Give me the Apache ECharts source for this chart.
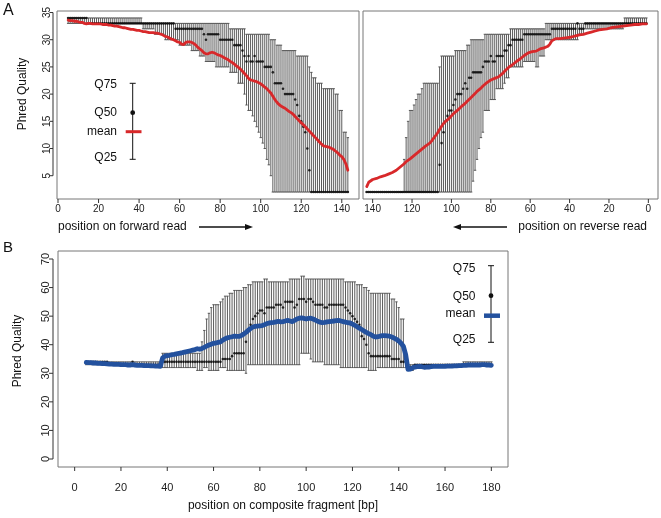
<!DOCTYPE html>
<html><head><meta charset="utf-8">
<script src="https://cdn.jsdelivr.net/npm/echarts@6/dist/echarts.min.js"></script>
<style>html,body{margin:0;padding:0;background:#fff}#c{width:661px;height:518px}</style>
</head><body><div id="c"></div>
<script>
// ---------- DATA ----------
const fwdStart = 5;   // forward read: positions 5..143
const revStart = 1;   // reverse read: positions 1..143
const fragStart = 5;  // composite fragment: positions 5..180

const fwdQ75 = [34,34,34,34,34,34,34,34,34,34, 34,34,34,34,34,34,34,34,34,34, 34,34,34,34,34,34,34,34,34,34,
 34,34,34,34,34,34,34,33,33,33, 33,33,33,33,33,33,33,33,33,33, 33,33,33,33,33,33,33,33,33,33,
 33,33,33,33,33,33,33,33,33,33, 33,33,33,33,33,33,33,33,33,33, 32,32,32,32,32,32,32,32,31,31,
 31,31,31,31,31,31,31,31,31,31, 30,30,30,29,29,29,28,28,28,28, 28,28,28,27,27,27,27,27,27,25,
 24,23,23,22,22,22,21,21,21,21, 21,21,20,20,17,17,13,13,12];
const fwdQ25 = [33,33,33,33,33,33,33,33,33,33, 33,33,33,33,33,33,33,33,33,33, 33,33,33,33,33,33,33,33,33,33,
 33,33,33,33,33,33,33,32,32,32, 32,32,32,31,31,31,31,31,30,30, 30,30,30,30,30,29,29,29,29,29,
 29,28,28,28,28,27,27,27,26,26, 26,26,26,25,25,25,25,25,25,25, 24,24,24,24,22,22,22,20,18,17,
 17,16,15,14,13,12,11,10,8,7, 5,2,2,2,2,2,2,2,2,2, 2,2,2,2,2,2,2,2,2,2,
 2,2,2,2,2,2,2,2,2,2, 2,2,2,2,2,2,2,2,2];
const fwdMedian = [34,34,34,34,34,34,34,34,34,34, 33,33,33,33,33,33,33,33,33,33, 33,33,33,33,33,33,33,33,33,33,
 33,33,33,33,33,33,33,33,33,33, 33,33,33,33,33,33,33,33,33,33, 33,33,33,32,32,32,32,32,32,32,
 32,32,32,32,32,32,32,31,30,31, 31,31,31,31,31,30,30,30,30,30, 30,30,29,29,29,29,28,27,26,27,
 26,26,27,26,26,26,26,25,25,25, 25,24,22,22,22,22,21,20,20,20, 20,20,19,18,16,15,14,13,10,6,
 2,2,2,2,2,2,2,2,2,2, 2,2,2,2,2,2,2,2,2];
const fwdMean = [33.6,33.5,33.5,33.4,33.4,33.3,33.2,33.2,33.0,32.9, 33.0,33.0,32.9,32.9,32.9,32.9,32.9,32.8,32.8,32.8,
 32.7,32.7,32.6,32.5,32.5,32.4,32.3,32.2,32.2,32.1, 32.0,31.9,31.9,31.8,31.7,31.7,31.6,31.5,31.5,31.4,
 31.3,31.3,31.3,31.2,31.2,31.1,31.0,30.8,30.6,30.5, 30.3,30.1,30.0,29.8,29.6,29.5,29.2,29.1,29.5,29.6,
 29.6,29.5,29.3,29.0,28.6,28.3,28.0,27.6,27.4,27.4, 27.6,27.7,27.6,27.4,27.2,27.1,26.9,26.7,26.5,26.3,
 26.0,25.8,25.5,25.2,24.9,24.6,24.2,23.8,23.4,22.9, 22.6,22.5,22.4,22.3,22.1,21.9,21.6,21.3,21.0,20.6,
 20.2,19.6,19.0,18.5,18.1,17.8,17.6,17.4,17.1,16.8, 16.6,16.3,15.9,15.5,15.1,14.7,14.4,14.0,13.6,13.2,
 12.8,12.4,12.0,11.6,11.2,10.8,10.5,10.4,10.3,10.2, 10.0,9.8,9.5,9.2,8.8,8.5,8.0,7.2,6.0];

const revQ75 = [34,34,34,34,34,34,34,34,34,34, 34,34,33,33,33,33,33,33,33,33, 33,33,33,33,33,33,33,33,33,33,
 33,33,33,33,33,33,33,33,33,33, 33,33,33,33,33,33,33,33,33,33, 33,33,32,32,32,32,32,32,32,32,
 32,32,32,32,32,32,32,32,32,32, 31,31,31,31,31,31,31,31,31,31, 31,31,31,30,30,30,30,30,30,30,
 29,29,28,28,28,28,28,28,27,27, 27,27,27,27,27,25,22,22,22,22, 22,22,22,22,21,20,20,19,18,17,
 17,15,12,8,2,2,2,2,2,2, 2,2,2,2,2,2,2,2,2,2, 2,2,2];
const revQ25 = [33,33,33,33,33,33,33,33,33,33, 33,33,32,32,32,32,32,32,32,32, 32,32,32,32,32,32,32,32,32,32,
 32,32,31,31,31,30,30,30,30,30, 30,30,30,30,30,30,30,30,30,30, 30,30,27,27,27,25,25,26,26,26,
 26,26,26,25,25,25,25,25,25,25, 23,23,22,21,21,21,21,19,19,19, 17,17,17,13,12,10,8,6,4,2,
 2,2,2,2,2,2,2,2,2,2, 2,2,2,2,2,2,2,2,2,2, 2,2,2,2,2,2,2,2,2,2,
 2,2,2,2,2,2,2,2,2,2, 2,2,2,2,2,2,2,2,2,2, 2,2,2];
const revMedian = [33,33,33,33,33,33,33,33,33,33, 33,33,33,33,33,33,33,33,33,33, 33,33,33,33,33,33,33,33,33,33,
 33,33,32,32,32,33,32,32,32,32, 32,32,32,32,32,32,32,32,32,31, 31,31,31,31,31,31,31,31,31,31,
 31,31,31,30,30,30,30,30,30,29, 29,28,28,27,27,27,27,26,26,27, 26,26,26,25,24,24,24,24,24,23,
 23,21,22,21,20,20,20,19,18,17, 17,16,15,13,11,7,2,2,2,2, 2,2,2,2,2,2,2,2,2,2,
 2,2,2,2,2,2,2,2,2,2, 2,2,2,2,2,2,2,2,2,2, 2,2,2];
const revMean = [32.9,32.9,32.9,32.8,32.8,32.8,32.8,32.7,32.7,32.6, 32.6,32.6,32.5,32.4,32.4,32.3,32.3,32.2,32.2,32.1,
 32.0,31.9,31.9,31.8,31.8,31.7,31.6,31.5,31.4,31.3, 31.2,31.1,31.0,31.0,30.9,30.8,30.7,30.7,30.5,30.6,
 30.4,30.3,30.3,30.2,30.2,30.3,30.2,30.1,29.8,29.2, 28.8,28.6,28.5,28.4,28.3,28.1,27.9,27.8,27.8,27.7,
 27.6,27.4,27.1,26.8,26.5,26.3,26.0,25.7,25.4,25.2, 24.9,24.6,24.2,23.8,23.5,23.2,23.0,22.9,22.8,22.6,
 22.4,22.1,21.8,21.5,21.1,20.8,20.5,20.1,19.8,19.4, 19.1,18.7,18.3,18.0,17.7,17.4,17.0,16.8,16.4,16.0,
 15.6,15.3,15.0,14.6,14.1,13.5,12.9,12.4,11.9,11.4, 11.0,10.8,10.5,10.3,9.9,9.6,9.3,9.0,8.7,8.4,
 8.1,7.9,7.6,7.2,6.9,6.6,6.3,6.0,5.8,5.6, 5.5,5.3,5.2,5.0,4.9,4.8,4.6,4.5,4.4,4.3, 4.1,3.8,3.0];

const fragQ75 = [34,34,34,34,34,34,34,34,34,34, 34,34,34,34,34,34,34,34,34,34, 34,34,34,34,34,34,34,34,34,34,
 34,34,34,37,37,37,37,37,37,37, 37,37,37,37,37,37,37,37,37,37, 41,45,49,51,53,54,54,54,55,56,
 57,57,58,58,59,59,59,59,60,60, 61,61,62,62,62,62,62,63,63,62, 62,62,62,62,62,62,62,62,63,63,
 63,63,63,64,64,63,63,63,63,63, 63,63,63,63,63,63,63,63,63,63, 63,63,62,62,62,62,62,61,61,61,
 60,60,59,58,58,58,58,58,58,58, 58,58,56,56,55,53,49,49,34,33, 33,33,33,33,33,33,33,33,33,33,
 33,33,33,33,33,33,33,33,33,33, 33,33,33,34,34,34,34,34,34,34, 34,34,34,34,34,34];
const fragQ25 = [33,33,33,33,33,33,33,33,33,33, 33,33,33,33,33,33,33,33,33,33, 33,33,33,33,33,33,33,33,33,33,
 33,33,33,32,32,32,32,32,32,32, 32,32,32,32,32,32,32,32,31,31, 31,32,32,31,31,31,31,31,32,32,
 32,31,31,31,31,31,31,31,31,30, 33,33,33,33,33,33,33,33,33,33, 33,33,33,33,33,33,33,33,33,33,
 33,33,33,37,37,37,37,35,34,34, 34,34,34,33,33,33,33,33,33,33, 32,32,32,32,32,32,32,32,32,32,
 32,32,31,31,31,31,32,32,32,32, 32,32,32,32,32,32,32,32,32,31, 31,31,33,33,33,33,33,33,33,33,
 33,33,33,33,33,33,33,33,33,33, 33,33,33,33,33,33,33,33,33,33, 33,33,33,33,33,33];
const fragMedian = [34,34,34,34,34,34,34,34,34,34, 33,33,33,33,33,33,33,33,33,33, 34,33,33,33,33,33,33,33,33,33,
 33,33,33,34,34,34,34,34,34,34, 34,34,34,34,34,34,34,34,34,34, 34,34,34,34,34,34,34,34,34,35,
 35,35,35,36,37,37,37,37,37,41, 45,47,49,50,51,52,52,51,53,53, 53,53,54,54,54,53,55,55,55,55,
 53,54,56,56,56,55,56,56,55,54, 54,54,54,53,53,54,54,54,54,54, 54,54,53,52,51,50,49,48,47,43,
 42,40,37,36,36,36,36,36,36,36, 36,36,35,35,35,35,34,34,34,32, 32,32,33,33,33,33,33,33,33,33,
 33,33,33,33,33,33,33,33,33,33, 33,33,33,33,33,33,33,33,33,33, 33,33,33,33,33,33];
const fragMean = [33.8,33.7,33.7,33.6,33.6,33.5,33.5,33.4,33.4,33.3, 33.2,33.2,33.1,33.1,33.1,33.0,33.0,33.0,32.9,32.9,
 33.0,32.9,32.8,32.8,32.8,32.7,32.7,32.7,32.6,32.6, 32.5,32.5,32.4,35.4,36.0,36.2,36.3,36.5,36.6,36.8,
 37.0,37.1,37.3,37.5,37.7,37.9,38.1,38.3,38.6,38.4, 38.7,39.1,39.5,39.9,40.2,40.5,40.6,40.8,41.0,41.6,
 42.1,42.4,42.6,42.8,43.0,42.9,42.9,43.2,43.7,44.3, 45.0,45.7,46.2,46.4,46.5,46.6,46.7,47.0,47.4,47.6,
 47.7,47.8,48.0,48.2,48.0,48.1,48.3,48.5,48.3,48.1, 48.5,49.0,49.3,49.4,49.2,49.0,49.2,49.3,49.0,48.6,
 48.2,47.9,47.7,47.8,48.0,48.1,48.2,48.3,48.4,48.5, 48.3,48.1,47.9,47.7,47.6,47.2,46.8,46.3,45.8,45.3,
 44.8,44.3,43.9,43.5,43.0,42.7,42.8,43.0,43.2,43.2, 43.1,43.0,42.7,42.3,41.9,41.3,40.5,39.5,36.5,31.4,
 31.5,31.9,32.2,32.3,32.4,32.3,32.1,32.2,32.2,32.3, 32.4,32.4,32.4,32.4,32.4,32.4,32.5,32.5,32.5,32.6,
 32.6,32.7,32.7,32.8,32.8,32.9,32.9,32.9,32.9,32.9, 32.9,33.0,33.0,32.9,32.9,32.8];

const xTicksFwd = [0,20,40,60,80,100,120,140];
const xTicksRev = [0,20,40,60,80,100,120,140];
const yTicksA = [5,10,15,20,25,30,35];
const xTicksB = [0,20,40,60,80,100,120,140,160,180];
const yTicksB = [0,10,20,30,40,50,60,70];

// axis extents (R adds 4% around the data range)
const xRangeFwd = [-0.5, 148.5];
const xRangeRev = [-4.9, 144.9];
const xRangeB = [-7.2, 187.2];
const yRangeA = [0.72, 35.28];
const yRangeB = [-2.8, 72.8];

// ---------- LAYOUT ----------
const gridBoxes = [
  {left: 57, top: 11, width: 302, height: 188},
  {left: 363, top: 11, width: 295, height: 188},
  {left: 58, top: 251, width: 450, height: 216}
];

// ---------- BUILD ----------
const FONT = "'Liberation Sans', Arial, Helvetica, sans-serif";
const boxRows = (start, lo, hi) => lo.map((v, i) => [start + i, v, hi[i]]);
const pts = (start, arr) => arr.map((v, i) => [start + i, v]);

function barRender(params, api) {
  const x = api.value(0);
  const p1 = api.coord([x, api.value(1)]);
  const p2 = api.coord([x, api.value(2)]);
  const cw = 1.2, st = {stroke: '#4a4a4a', lineWidth: 0.9};
  return {type: 'group', children: [
    {type: 'line', shape: {x1: p1[0], y1: p1[1], x2: p2[0], y2: p2[1]}, style: st},
    {type: 'line', shape: {x1: p1[0] - cw, y1: p1[1], x2: p1[0] + cw, y2: p1[1]}, style: st},
    {type: 'line', shape: {x1: p2[0] - cw, y1: p2[1], x2: p2[0] + cw, y2: p2[1]}, style: st}
  ]};
}
function barSeries(idx, data) {
  return {type: 'custom', xAxisIndex: idx, yAxisIndex: idx, renderItem: barRender, data: data, silent: true, z: 2};
}
function medSeries(idx, data) {
  return {type: 'scatter', xAxisIndex: idx, yAxisIndex: idx, data: data, symbol: 'circle', symbolSize: 2.6,
    itemStyle: {color: '#000'}, silent: true, z: 3};
}
function meanSeries(idx, data, color, w) {
  return {type: 'line', xAxisIndex: idx, yAxisIndex: idx, data: data, showSymbol: false, smooth: false,
    lineStyle: {color: color, width: w, join: 'round', cap: 'round'}, silent: true, z: 4};
}

function xAxisDef(idx, range, ticks, inverse, fs, margin) {
  return {gridIndex: idx, type: 'value', min: range[0], max: range[1], inverse: inverse,
    axisLine: {show: false, onZero: false}, splitLine: {show: false}, axisTick: {show: false},
    axisLabel: {customValues: ticks, fontSize: fs, color: '#222', fontFamily: FONT, margin: margin}};
}
function yAxisDef(idx, range, ticks, offset, fs, margin) {
  return {gridIndex: idx, type: 'value', min: range[0], max: range[1], offset: offset,
    axisLine: {show: false, onZero: false}, splitLine: {show: false}, axisTick: {show: false},
    axisLabel: {customValues: ticks, fontSize: fs, color: '#222', fontFamily: FONT, rotate: 90, margin: margin}};
}

const gridStyle = {show: true, borderColor: '#777', borderWidth: 1, backgroundColor: 'transparent'};

const txt = (x, y, s, size, align, extra) => Object.assign({type: 'text', x: x, y: y, silent: true,
  style: {text: s, fill: '#111', font: size + 'px ' + FONT, textAlign: align || 'left', textVerticalAlign: 'middle'}}, extra || {});
const ln = (x1, y1, x2, y2, color, w) => ({type: 'line', silent: true, z: 10,
  shape: {x1: x1, y1: y1, x2: x2, y2: y2}, style: {stroke: color, lineWidth: w}});
const tri = (pts3) => ({type: 'polygon', silent: true, shape: {points: pts3}, style: {fill: '#111'}});

const baseGraphics = [
  txt(3, 11, 'A', 16),
  txt(3, 248, 'B', 15),
  txt(23, 94, 'Phred Quality', 12, 'center', {rotation: Math.PI / 2}),
  txt(18, 351, 'Phred Quality', 12, 'center', {rotation: Math.PI / 2}),
  txt(58, 227, 'position on forward read', 12, 'left'),
  ln(199, 227, 247, 227, '#111', 1.6), tri([[253, 227], [245, 224], [245, 230]]),
  txt(647, 227, 'position on reverse read', 12, 'right'),
  ln(459, 227, 507, 227, '#111', 1.6), tri([[453, 227], [461, 224], [461, 230]]),
  txt(283, 506, 'position on composite fragment [bp]', 12, 'center'),
  // legend panel A
  ln(132.7, 83.3, 132.7, 159.3, '#111', 1),
  ln(129.7, 83.3, 135.7, 83.3, '#111', 1),
  ln(129.7, 159.3, 135.7, 159.3, '#111', 1),
  {type: 'circle', silent: true, shape: {cx: 132.7, cy: 112.7, r: 2.4}, style: {fill: '#111'}},
  ln(125.7, 131.7, 141.5, 131.7, '#d8282a', 3),
  txt(117, 85, 'Q75', 12, 'right'),
  txt(117, 113, 'Q50', 12, 'right'),
  txt(117, 131.5, 'mean', 12, 'right'),
  txt(117, 158, 'Q25', 12, 'right'),
  // legend panel B
  ln(491, 265.7, 491, 342.3, '#111', 1),
  ln(488, 265.7, 494, 265.7, '#111', 1),
  ln(488, 342.3, 494, 342.3, '#111', 1),
  {type: 'circle', silent: true, shape: {cx: 491, cy: 295.7, r: 2.4}, style: {fill: '#111'}},
  ln(484, 315.7, 500, 315.7, '#23519e', 4.5),
  txt(475.5, 268.5, 'Q75', 12, 'right'),
  txt(475.5, 296.5, 'Q50', 12, 'right'),
  txt(475.5, 314, 'mean', 12, 'right'),
  txt(475.5, 340, 'Q25', 12, 'right')
];

const option = {
  animation: false,
  backgroundColor: '#fff',
  grid: gridBoxes.map(g => Object.assign({}, g, gridStyle)),
  xAxis: [
    xAxisDef(0, xRangeFwd, xTicksFwd, false, 10, 5),
    xAxisDef(1, xRangeRev, xTicksRev, true, 10, 5),
    xAxisDef(2, xRangeB, xTicksB, false, 11, 15)
  ],
  yAxis: [
    yAxisDef(0, yRangeA, yTicksA, 4, 10, 1),
    {gridIndex: 1, type: 'value', min: yRangeA[0], max: yRangeA[1], show: false, axisLine: {onZero: false}},
    yAxisDef(2, yRangeB, yTicksB, 5, 11, 2)
  ],
  series: [
    barSeries(0, boxRows(fwdStart, fwdQ25, fwdQ75)),
    barSeries(1, boxRows(revStart, revQ25, revQ75)),
    barSeries(2, boxRows(fragStart, fragQ25, fragQ75)),
    medSeries(0, pts(fwdStart, fwdMedian)),
    medSeries(1, pts(revStart, revMedian)),
    medSeries(2, pts(fragStart, fragMedian)),
    meanSeries(0, pts(fwdStart, fwdMean), '#d8282a', 2.8),
    meanSeries(1, pts(revStart, revMean), '#d8282a', 2.8),
    meanSeries(2, pts(fragStart, fragMean), '#23519e', 4.8)
  ],
  graphic: baseGraphics
};

const chart = echarts.init(document.getElementById('c'), null, {renderer: 'canvas'});
chart.setOption(option);

// ---------- R-style axes (ticks, and a y spine spanning only the tick range) ----------
const xRanges = [xRangeFwd, xRangeRev, xRangeB], yRanges = [yRangeA, yRangeA, yRangeB], inv = [false, true, false];
function toPx(g, x, y) {
  try {
    const p = chart.convertToPixel({xAxisIndex: g, yAxisIndex: g}, [x, y]);
    if (p && isFinite(p[0]) && isFinite(p[1])) return p;
  } catch (e) {}
  const b = gridBoxes[g], xr = xRanges[g], yr = yRanges[g];
  let fx = (x - xr[0]) / (xr[1] - xr[0]);
  if (inv[g]) fx = 1 - fx;
  return [b.left + fx * b.width, b.top + (yr[1] - y) / (yr[1] - yr[0]) * b.height];
}
const axisMarks = [];
function xTicks(g, ticks, len) {
  const bottom = gridBoxes[g].top + gridBoxes[g].height;
  ticks.forEach(t => { const p = toPx(g, t, yRanges[g][0]); axisMarks.push(ln(p[0], bottom, p[0], bottom + len, '#333', 1)); });
}
function yAxisMarks(g, ticks, offset, len) {
  const x = gridBoxes[g].left - offset;
  const ys = ticks.map(t => toPx(g, xRanges[g][0], t)[1]);
  axisMarks.push(ln(x, ys[0], x, ys[ys.length - 1], '#333', 1));
  ys.forEach(y => axisMarks.push(ln(x - len, y, x, y, '#333', 1)));
}
try {
  xTicks(0, xTicksFwd, 4);
  xTicks(1, xTicksRev, 4);
  xTicks(2, xTicksB, 4);
  yAxisMarks(0, yTicksA, 4, 3.5);
  yAxisMarks(2, yTicksB, 5, 4);
} catch (e) {}
chart.setOption({graphic: baseGraphics.concat(axisMarks)});
</script>
</body></html>
